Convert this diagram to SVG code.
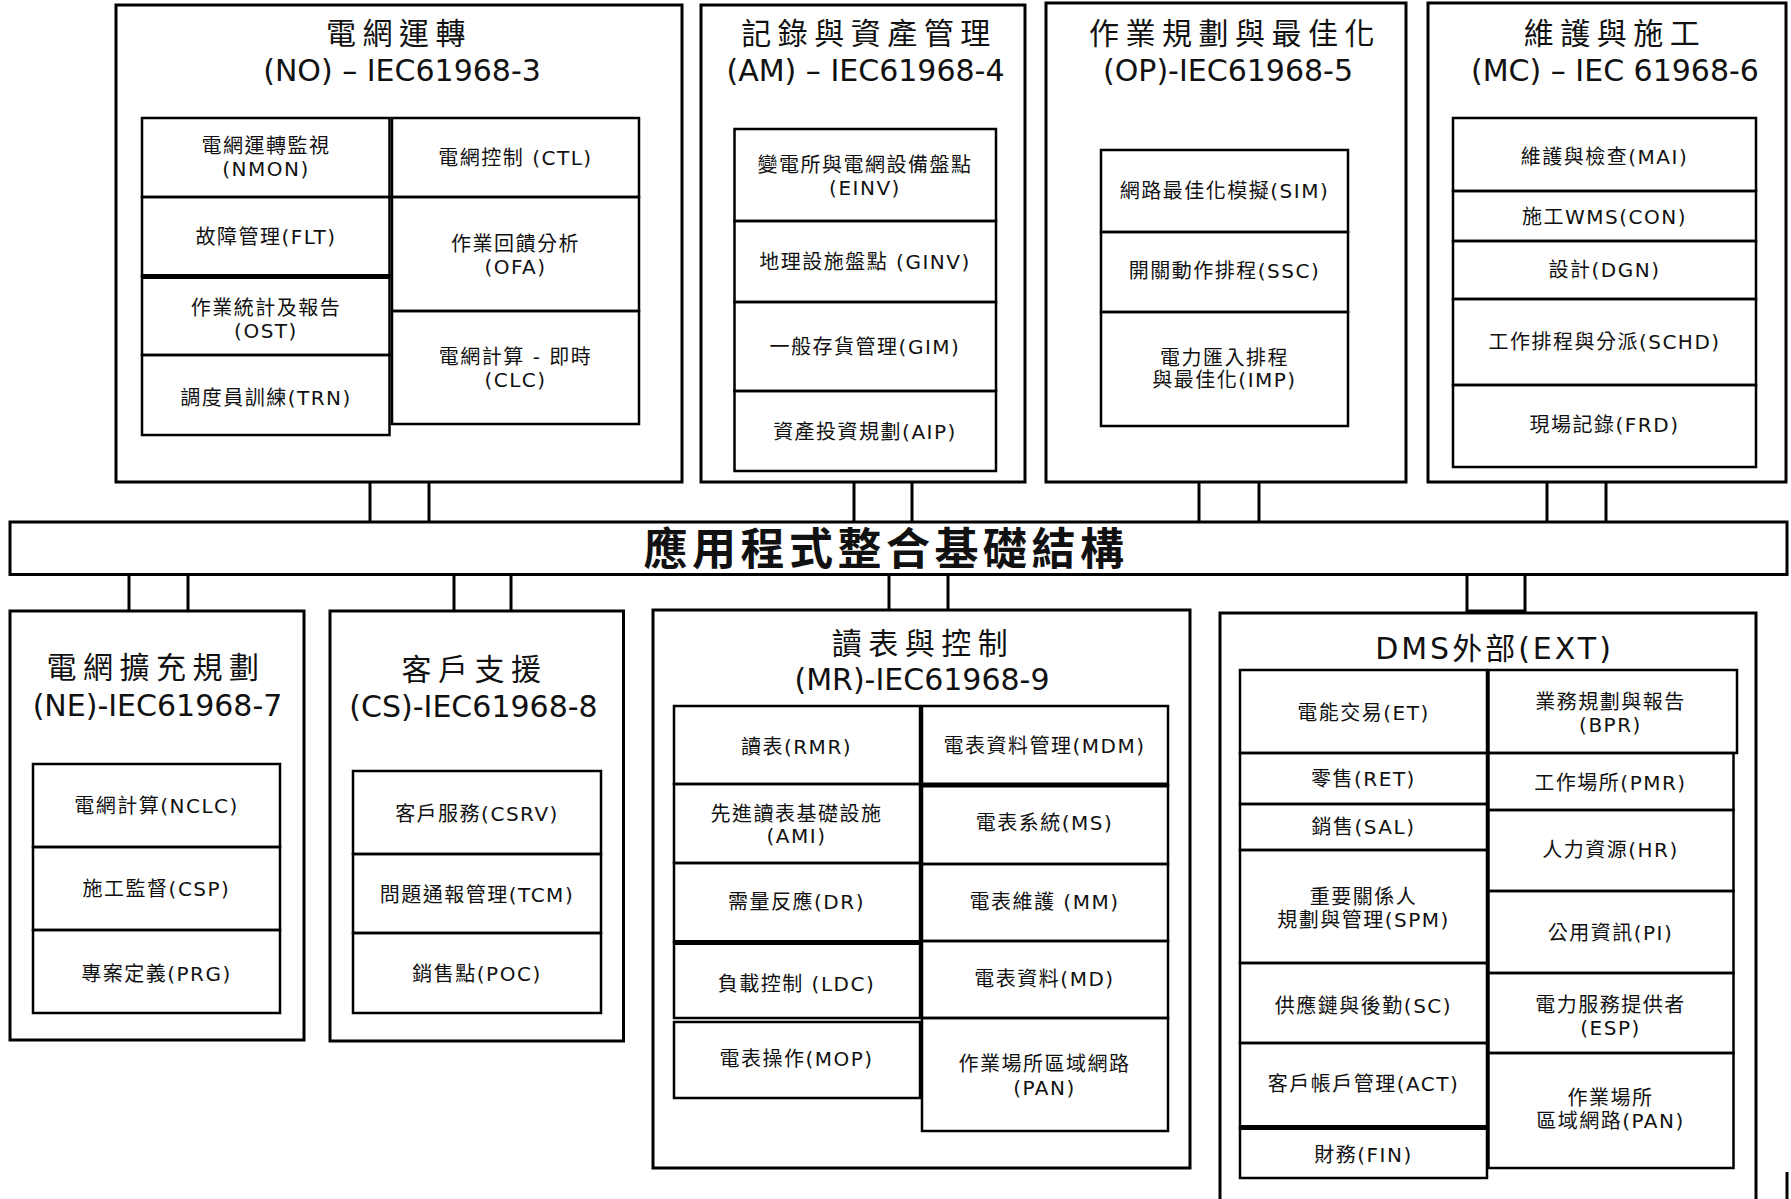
<svg xmlns="http://www.w3.org/2000/svg" width="1791" height="1199" viewBox="0 0 1791 1199">
<style>
.box{fill:#fff;stroke:#000;stroke-width:3}
.cell{fill:none;stroke:#000;stroke-width:2.5}
.thick{stroke:#000;stroke-width:5}
.con line,.con rect{stroke:#000;stroke-width:3;fill:none}
text{font-family:"DejaVu Sans","Noto Sans CJK TC",sans-serif;text-anchor:middle;fill:#111}
.t{font-size:20px;letter-spacing:1.5px}
.h1{font-size:30px;letter-spacing:6.5px}
.h2{font-size:30px}
.bar{font-size:44px;font-weight:bold;letter-spacing:4.5px}
</style>
<rect width="1791" height="1199" fill="#fff"/>

<g id="connectors" class="con">
<line x1="370" y1="482" x2="370" y2="522"/><line x1="429" y1="482" x2="429" y2="522"/>
<line x1="854" y1="482" x2="854" y2="522"/><line x1="912" y1="482" x2="912" y2="522"/>
<line x1="1199" y1="482" x2="1199" y2="522"/><line x1="1259" y1="482" x2="1259" y2="522"/>
<line x1="1547" y1="482" x2="1547" y2="522"/><line x1="1606" y1="482" x2="1606" y2="522"/>
<line x1="129" y1="574" x2="129" y2="611"/><line x1="188" y1="574" x2="188" y2="611"/>
<line x1="454" y1="574" x2="454" y2="611"/><line x1="511" y1="574" x2="511" y2="611"/>
<line x1="889" y1="574" x2="889" y2="610"/><line x1="948" y1="574" x2="948" y2="610"/>
<rect x="1467" y="574" width="58" height="37"/>
<line x1="1787" y1="1172" x2="1787" y2="1199"/>
</g>

<g id="bus">
<rect class="box" x="10" y="522" width="1777" height="52.5"/>
<text class="bar" x="886" y="564.5">應用程式整合基礎結構</text>
</g>

<g id="NO">
<rect class="box" x="116" y="5" width="566" height="477"/>
<text class="h1" x="399" y="43.5">電網運轉</text>
<text class="h2" x="402" y="81">(NO) – IEC61968-3</text>
<rect class="cell" x="142" y="118" width="247.5" height="79"/>
<rect class="cell" x="142" y="197" width="247.5" height="79"/>
<rect class="cell" x="142" y="276" width="247.5" height="79"/>
<rect class="cell" x="142" y="355" width="247.5" height="80"/>
<line class="thick" x1="142" y1="276.5" x2="389.5" y2="276.5"/>
<rect class="cell" x="392" y="118" width="247" height="79"/>
<rect class="cell" x="392" y="197" width="247" height="114"/>
<rect class="cell" x="392" y="311" width="247" height="113"/>
<text class="t" x="266" y="153">電網運轉監視</text>
<text class="t" x="266" y="176">(NMON)</text>
<text class="t" x="266" y="244">故障管理(FLT)</text>
<text class="t" x="266" y="315">作業統計及報告</text>
<text class="t" x="266" y="338">(OST)</text>
<text class="t" x="266" y="405">調度員訓練(TRN)</text>
<text class="t" x="515.5" y="165">電網控制 (CTL)</text>
<text class="t" x="515.5" y="251">作業回饋分析</text>
<text class="t" x="515.5" y="274">(OFA)</text>
<text class="t" x="515.5" y="363.5">電網計算 - 即時</text>
<text class="t" x="515.5" y="387">(CLC)</text>
</g>

<g id="AM">
<rect class="box" x="701" y="5" width="324" height="477"/>
<text class="h1" x="869" y="43.5">記錄與資產管理</text>
<text class="h2" x="865.5" y="81">(AM) – IEC61968-4</text>
<rect class="cell" x="734.5" y="129" width="261.5" height="92"/>
<rect class="cell" x="734.5" y="221" width="261.5" height="81"/>
<rect class="cell" x="734.5" y="302" width="261.5" height="89"/>
<rect class="cell" x="734.5" y="391" width="261.5" height="80"/>
<text class="t" x="865" y="172">變電所與電網設備盤點</text>
<text class="t" x="865" y="195">(EINV)</text>
<text class="t" x="865" y="269">地理設施盤點 (GINV)</text>
<text class="t" x="865" y="354">一般存貨管理(GIM)</text>
<text class="t" x="865" y="439">資產投資規劃(AIP)</text>
</g>

<g id="OP">
<rect class="box" x="1046" y="3" width="360" height="479"/>
<text class="h1" x="1235" y="43.5">作業規劃與最佳化</text>
<text class="h2" x="1228" y="81">(OP)-IEC61968-5</text>
<rect class="cell" x="1101" y="150" width="247" height="82"/>
<rect class="cell" x="1101" y="232" width="247" height="80"/>
<rect class="cell" x="1101" y="312" width="247" height="114"/>
<text class="t" x="1224.5" y="198">網路最佳化模擬(SIM)</text>
<text class="t" x="1224.5" y="278">開關動作排程(SSC)</text>
<text class="t" x="1224.5" y="365">電力匯入排程</text>
<text class="t" x="1224.5" y="387">與最佳化(IMP)</text>
</g>

<g id="MC">
<rect class="box" x="1428" y="3" width="358" height="479"/>
<text class="h1" x="1615" y="43.5">維護與施工</text>
<text class="h2" x="1615" y="81">(MC) – IEC 61968-6</text>
<rect class="cell" x="1453" y="118" width="303" height="73"/>
<rect class="cell" x="1453" y="191" width="303" height="50"/>
<rect class="cell" x="1453" y="241" width="303" height="58"/>
<rect class="cell" x="1453" y="299" width="303" height="86"/>
<rect class="cell" x="1453" y="385" width="303" height="82"/>
<text class="t" x="1604.5" y="164">維護與檢查(MAI)</text>
<text class="t" x="1604.5" y="224">施工WMS(CON)</text>
<text class="t" x="1604.5" y="277">設計(DGN)</text>
<text class="t" x="1604.5" y="349">工作排程與分派(SCHD)</text>
<text class="t" x="1604.5" y="432">現場記錄(FRD)</text>
</g>

<g id="NE">
<rect class="box" x="10" y="611" width="294" height="429"/>
<text class="h1" x="156" y="677.5">電網擴充規劃</text>
<text class="h2" x="157.5" y="715.5">(NE)-IEC61968-7</text>
<rect class="cell" x="33" y="764" width="247" height="83"/>
<rect class="cell" x="33" y="847" width="247" height="83"/>
<rect class="cell" x="33" y="930" width="247" height="83"/>
<text class="t" x="156.5" y="813">電網計算(NCLC)</text>
<text class="t" x="156.5" y="896">施工監督(CSP)</text>
<text class="t" x="156.5" y="981">專案定義(PRG)</text>
</g>

<g id="CS">
<rect class="box" x="330" y="611" width="293.5" height="430"/>
<text class="h1" x="474.5" y="680">客戶支援</text>
<text class="h2" x="473.5" y="716.5">(CS)-IEC61968-8</text>
<rect class="cell" x="353" y="771" width="248" height="83"/>
<rect class="cell" x="353" y="854" width="248" height="79"/>
<rect class="cell" x="353" y="933" width="248" height="80"/>
<text class="t" x="477" y="821">客戶服務(CSRV)</text>
<text class="t" x="477" y="902">問題通報管理(TCM)</text>
<text class="t" x="477" y="981">銷售點(POC)</text>
</g>

<g id="MR">
<rect class="box" x="653" y="610" width="537" height="558"/>
<text class="h1" x="923" y="654">讀表與控制</text>
<text class="h2" x="922" y="689.5">(MR)-IEC61968-9</text>
<rect class="cell" x="674" y="706" width="246" height="78"/>
<rect class="cell" x="674" y="784" width="246" height="79"/>
<rect class="cell" x="674" y="863" width="246" height="79"/>
<rect class="cell" x="674" y="942" width="246" height="76"/>
<rect class="cell" x="674" y="1022" width="246" height="76"/>
<line class="thick" x1="674" y1="942.5" x2="920" y2="942.5"/>
<rect class="cell" x="922" y="706" width="246" height="79"/>
<rect class="cell" x="922" y="785" width="246" height="79"/>
<rect class="cell" x="922" y="864" width="246" height="77"/>
<rect class="cell" x="922" y="941" width="246" height="77"/>
<rect class="cell" x="922" y="1018" width="246" height="113"/>
<line class="thick" x1="922" y1="785" x2="1168" y2="785"/>
<text class="t" x="796.5" y="754">讀表(RMR)</text>
<text class="t" x="796.5" y="821">先進讀表基礎設施</text>
<text class="t" x="796.5" y="843">(AMI)</text>
<text class="t" x="796.5" y="909">需量反應(DR)</text>
<text class="t" x="796.5" y="991">負載控制 (LDC)</text>
<text class="t" x="796.5" y="1066">電表操作(MOP)</text>
<text class="t" x="1044.5" y="753">電表資料管理(MDM)</text>
<text class="t" x="1044.5" y="830">電表系統(MS)</text>
<text class="t" x="1044.5" y="908.5">電表維護 (MM)</text>
<text class="t" x="1044.5" y="986">電表資料(MD)</text>
<text class="t" x="1044.5" y="1071">作業場所區域網路</text>
<text class="t" x="1044.5" y="1094.5">(PAN)</text>
</g>

<g id="EXT">
<rect class="box" x="1220" y="613" width="536" height="600"/>
<text class="h2" x="1494.5" y="659" style="letter-spacing:3px">DMS外部(EXT)</text>
<rect class="cell" x="1240" y="670" width="247" height="83"/>
<rect class="cell" x="1240" y="753" width="247" height="51"/>
<rect class="cell" x="1240" y="804" width="247" height="46"/>
<rect class="cell" x="1240" y="850" width="247" height="113"/>
<rect class="cell" x="1240" y="963" width="247" height="80"/>
<rect class="cell" x="1240" y="1043" width="247" height="85"/>
<rect class="cell" x="1240" y="1128" width="247" height="50"/>
<line class="thick" x1="1240" y1="1127.5" x2="1487" y2="1127.5"/>
<rect class="cell" x="1488.5" y="670" width="248.5" height="83"/>
<rect class="cell" x="1488.5" y="753" width="245" height="57"/>
<rect class="cell" x="1488.5" y="810" width="245" height="81"/>
<rect class="cell" x="1488.5" y="891" width="245" height="82"/>
<rect class="cell" x="1488.5" y="973" width="245" height="80"/>
<rect class="cell" x="1488.5" y="1053" width="245" height="115"/>
<text class="t" x="1363.5" y="720">電能交易(ET)</text>
<text class="t" x="1363.5" y="785.5">零售(RET)</text>
<text class="t" x="1363.5" y="834">銷售(SAL)</text>
<text class="t" x="1363.5" y="903.5">重要關係人</text>
<text class="t" x="1363.5" y="927">規劃與管理(SPM)</text>
<text class="t" x="1363.5" y="1013">供應鏈與後勤(SC)</text>
<text class="t" x="1363.5" y="1091">客戶帳戶管理(ACT)</text>
<text class="t" x="1363.5" y="1162">財務(FIN)</text>
<text class="t" x="1610.5" y="709">業務規劃與報告</text>
<text class="t" x="1610.5" y="732">(BPR)</text>
<text class="t" x="1610.5" y="789.5">工作場所(PMR)</text>
<text class="t" x="1610.5" y="857">人力資源(HR)</text>
<text class="t" x="1610.5" y="939.5">公用資訊(PI)</text>
<text class="t" x="1610.5" y="1012">電力服務提供者</text>
<text class="t" x="1610.5" y="1035">(ESP)</text>
<text class="t" x="1610.5" y="1105">作業場所</text>
<text class="t" x="1610.5" y="1128">區域網路(PAN)</text>
</g>
</svg>
